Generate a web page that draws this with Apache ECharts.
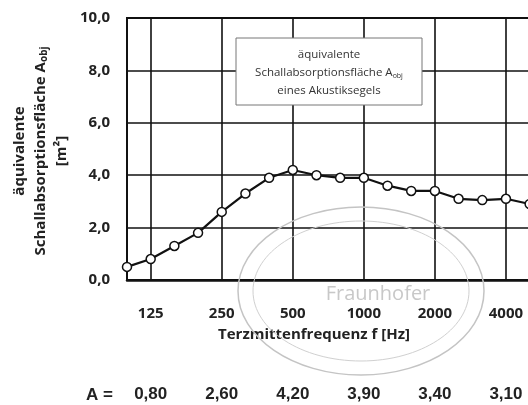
<!DOCTYPE html>
<html>
<head>
<meta charset="utf-8">
<script src="https://cdn.jsdelivr.net/npm/echarts@6/dist/echarts.min.js"></script>
<style>html,body{margin:0;padding:0;background:#fff;overflow:hidden;}#c{width:600px;height:405px;}</style>
</head>
<body>
<div id="c"></div>
<script>
// Third-octave centre frequencies (Hz) shown on the x axis
var categories = ['100','125','160','200','250','315','400','500','630','800','1000','1250','1600','2000','2500','3150','4000','5000','6300','8000'];
// Equivalent absorption area A_obj [m²]
var aobjValues = [0.5, 0.8, 1.3, 1.8, 2.6, 3.3, 3.9, 4.2, 4.0, 3.9, 3.9, 3.6, 3.4, 3.4, 3.1, 3.05, 3.1, 2.9];
// Octave labels and the A values listed below the chart
var octaveLabels = ['125','250','500','1000','2000','4000','8000'];
var octaveA = [0.80, 2.60, 4.20, 3.90, 3.40, 3.10];
var yTicks = [0, 2, 4, 6, 8, 10];

var fmt1 = function (v) { return v.toFixed(1).replace('.', ','); };
var fmt2 = function (v) { return v.toFixed(2).replace('.', ','); };
var isOct = function (i) { return octaveLabels.indexOf(categories[i]) >= 0; };

var chart = echarts.init(document.getElementById('c'));
var FONT = 'Open Sans';
chart.setOption({
  animation: false,
  backgroundColor: '#fff',
  grid: { left: 127, top: 18, bottom: 125, right: 23, show: true, borderColor: '#111', borderWidth: 2, backgroundColor: 'transparent' },
  xAxis: [{
    type: 'category', data: categories, boundaryGap: false,
    axisLine: { show: true, lineStyle: { color: '#111', width: 2.5 } },
    axisTick: { show: false },
    splitLine: { show: true, interval: function (i) { return isOct(i); }, lineStyle: { color: '#111', width: 1.6 } },
    axisLabel: { interval: function (i) { return isOct(i); }, margin: 26, color: '#222', fontFamily: FONT, fontWeight: 'bold', fontSize: 15 },
    name: 'Terzmittenfrequenz f [Hz]', nameLocation: 'middle', nameGap: 47,
    nameTextStyle: { color: '#222', fontFamily: FONT, fontWeight: 'bold', fontSize: 15, padding: [0, 76, 0, 0] }
  }, {
    type: 'category', data: categories, boundaryGap: false, position: 'bottom', offset: 100,
    axisLine: { show: false }, axisTick: { show: false }, splitLine: { show: false },
    axisLabel: {
      interval: function (i) { return octaveLabels.slice(0, octaveA.length).indexOf(categories[i]) >= 0; },
      formatter: function (v) { var k = octaveLabels.indexOf(v); return (k >= 0 && k < octaveA.length) ? fmt2(octaveA[k]) : ''; },
      margin: 6, color: '#222', fontFamily: 'Liberation Sans', fontWeight: 'bold', fontSize: 17
    }
  }],
  yAxis: {
    type: 'value', min: yTicks[0], max: yTicks[yTicks.length - 1], interval: 2,
    axisLine: { show: true, lineStyle: { color: '#111', width: 2 } },
    axisTick: { show: false },
    splitLine: { show: true, lineStyle: { color: '#111', width: 1.6 } },
    axisLabel: { formatter: fmt1, margin: 17, color: '#222', fontFamily: FONT, fontWeight: 'bold', fontSize: 15 }
  },
  series: [{
    type: 'line', data: aobjValues, xAxisIndex: 0,
    lineStyle: { color: '#111', width: 2.2 },
    symbol: 'circle', symbolSize: 9,
    itemStyle: { color: '#fff', borderColor: '#111', borderWidth: 1.5 },
    z: 5
  }],
  graphic: [
    { type: 'ellipse', shape: { cx: 361, cy: 291, rx: 123, ry: 84 }, style: { fill: 'none', stroke: '#c4c4c4', lineWidth: 1.5 }, z: 1 },
    { type: 'ellipse', shape: { cx: 361, cy: 291, rx: 108, ry: 70 }, style: { fill: 'none', stroke: '#d0d0d0', lineWidth: 1 }, z: 1 },
    { type: 'text', x: 378, y: 294, style: { text: 'Fraunhofer', fill: '#c8c8c8', font: '20px "Open Sans"', align: 'center', verticalAlign: 'middle' }, z: 1 },
    { type: 'rect', shape: { x: 236, y: 38, width: 186, height: 67 }, style: { fill: '#fff', stroke: '#777', lineWidth: 1 }, z: 10 },
    { type: 'text', x: 329, y: 73, z: 11, style: {
      text: 'äquivalente\nSchallabsorptionsfläche A{s|obj}\neines Akustiksegels',
      align: 'center', verticalAlign: 'middle', fill: '#333', font: '11.5px "Open Sans"', lineHeight: 18,
      rich: { s: { fontSize: 7, fontFamily: 'Open Sans', fill: '#333', padding: [5, 0, 0, 0] } }
    } },
    { type: 'text', x: 41, y: 151, rotation: Math.PI / 2, z: 11, style: {
      text: 'äquivalente\nSchallabsorptionsfläche A{s|obj}\n[m²]',
      align: 'center', verticalAlign: 'middle', fill: '#222', fontFamily: FONT, fontWeight: 'bold', fontSize: 15, lineHeight: 21,
      rich: { s: { fontSize: 10, fontFamily: FONT, fontWeight: 'bold', fill: '#222', padding: [6, 0, 0, 0] } }
    } },
    { type: 'text', x: 86, y: 395, z: 11, style: { text: 'A =', fill: '#222', font: 'bold 17px "Liberation Sans"', align: 'left', verticalAlign: 'middle' } }
  ]
});
</script>
</body>
</html>
